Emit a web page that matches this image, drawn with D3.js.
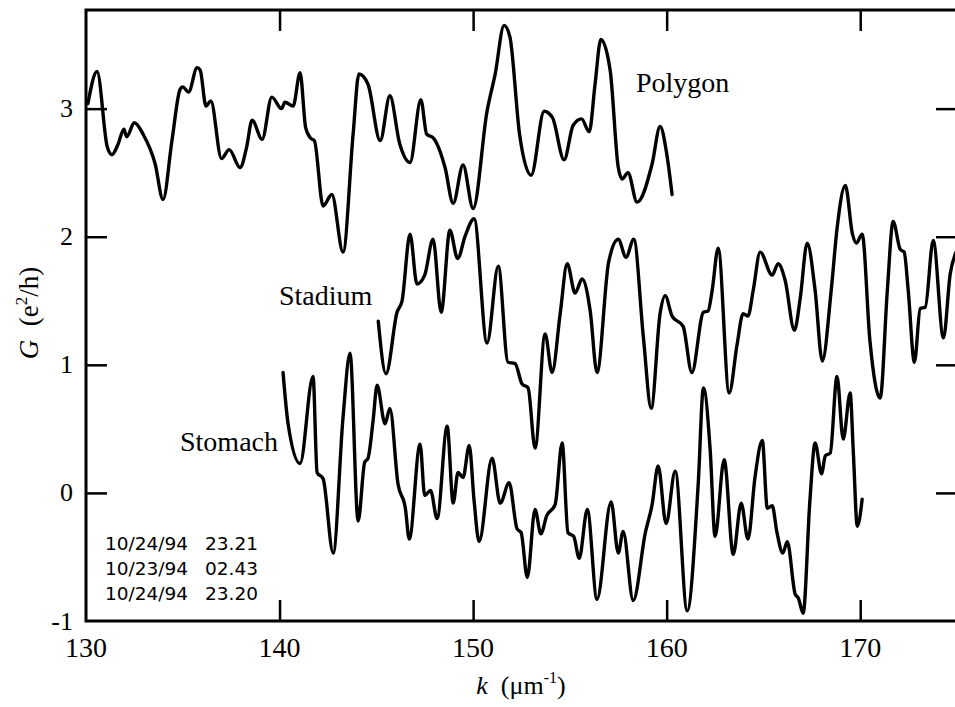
<!DOCTYPE html>
<html>
<head>
<meta charset="utf-8">
<script src="https://cdn.jsdelivr.net/npm/d3@7"></script>
<style>
  body { margin: 0; background: #fff; }
  svg { display: block; }
</style>
</head>
<body>
<div id="chart"></div>
<script>
// tick values
var xTicks = [130, 140, 150, 160, 170];
var yTicks = [-1, 0, 1, 2, 3];

// [k, G]
var polygonData = [
  [130.1, 3.04], [130.57, 3.29], [131.1, 2.70], [131.34, 2.64], [131.65, 2.72], [131.96, 2.84],
  [132.1, 2.78], [132.5, 2.89], [132.95, 2.80], [133.57, 2.57], [133.98, 2.29], [134.44, 2.75],
  [134.86, 3.15], [135.0, 3.17], [135.3, 3.13], [135.74, 3.32], [135.9, 3.30], [136.2, 3.02],
  [136.45, 3.06], [137.0, 2.61], [137.4, 2.68], [137.96, 2.54], [138.3, 2.70], [138.58, 2.91],
  [139.1, 2.76], [139.6, 3.09], [140.1, 3.00], [140.28, 3.05], [140.7, 3.02], [141.06, 3.28],
  [141.35, 2.85], [141.6, 2.77], [141.8, 2.75], [142.25, 2.24], [142.7, 2.33], [143.28, 1.88],
  [143.8, 2.80], [144.1, 3.27], [144.57, 3.19], [145.2, 2.75], [145.7, 3.10], [146.2, 2.73],
  [146.74, 2.58], [147.3, 3.07], [147.6, 2.80], [147.95, 2.77], [148.55, 2.54], [148.97, 2.26],
  [149.48, 2.56], [150.0, 2.22], [150.72, 2.98], [151.14, 3.27], [151.6, 3.65], [151.9, 3.56],
  [152.4, 2.80], [153.0, 2.48], [153.67, 2.98], [154.1, 2.93], [154.7, 2.60], [155.17, 2.87],
  [155.6, 2.92], [156.0, 2.82], [156.3, 3.19], [156.6, 3.54], [157.08, 3.30], [157.5, 2.54],
  [157.7, 2.45], [158.0, 2.50], [158.47, 2.27], [159.25, 2.57], [159.66, 2.86], [160.0, 2.65],
  [160.28, 2.33]
];

var stadiumData = [
  [145.1, 1.34], [145.5, 0.93], [146.07, 1.41], [146.33, 1.50], [146.74, 2.02], [147.1, 1.63],
  [147.5, 1.70], [147.93, 1.98], [148.35, 1.41], [148.8, 2.05], [149.2, 1.83], [149.6, 2.01],
  [150.05, 2.14], [150.72, 1.17], [151.3, 1.77], [151.8, 1.02], [152.17, 1.01], [152.53, 0.85],
  [152.84, 0.82], [153.2, 0.35], [153.72, 1.24], [154.08, 0.94], [154.5, 1.40], [154.86, 1.79],
  [155.27, 1.56], [155.63, 1.67], [156.05, 1.42], [156.4, 0.94], [157.0, 1.80], [157.5, 1.98],
  [157.9, 1.84], [158.3, 1.98], [158.8, 1.21], [159.2, 0.66], [159.66, 1.40], [159.92, 1.54],
  [160.28, 1.38], [160.85, 1.30], [161.3, 0.94], [161.9, 1.41], [162.14, 1.42], [162.35, 1.58],
  [162.66, 1.91], [163.23, 0.78], [163.64, 1.16], [163.95, 1.40], [164.2, 1.38], [164.47, 1.58],
  [164.83, 1.88], [165.45, 1.70], [165.76, 1.79], [166.12, 1.66], [166.6, 1.27], [166.9, 1.52],
  [167.26, 1.95], [167.67, 1.58], [168.04, 1.03], [168.5, 1.58], [168.8, 2.06], [169.23, 2.40],
  [169.6, 2.02], [169.8, 1.95], [170.1, 2.02], [170.5, 1.19], [171.03, 0.74], [171.4, 1.58],
  [171.7, 2.12], [172.07, 1.90], [172.27, 1.88], [172.48, 1.58], [172.8, 1.02], [173.1, 1.44],
  [173.36, 1.45], [173.77, 1.97], [174.3, 1.21], [174.65, 1.71], [174.95, 1.88]
];

var stomachData = [
  [140.18, 0.94], [140.44, 0.54], [141.06, 0.23], [141.73, 0.91], [141.94, 0.16], [142.25, 0.11],
  [142.77, -0.47], [143.28, 0.59], [143.64, 1.09], [144.06, -0.22], [144.4, 0.24], [144.57, 0.27],
  [144.83, 0.56], [145.04, 0.84], [145.45, 0.54], [145.7, 0.66], [146.12, 0.07], [146.5, -0.12],
  [146.7, -0.36], [147.26, 0.38], [147.5, -0.02], [147.8, 0.02], [148.14, -0.20], [148.66, 0.52],
  [148.97, -0.08], [149.22, 0.16], [149.48, 0.12], [149.8, 0.37], [150.05, -0.06], [150.31, -0.38],
  [150.98, 0.27], [151.4, -0.08], [151.86, 0.08], [152.27, -0.28], [152.48, -0.31], [152.8, -0.66],
  [153.2, -0.13], [153.5, -0.32], [153.8, -0.18], [154.24, -0.09], [154.6, 0.39], [154.9, -0.31],
  [155.2, -0.34], [155.48, -0.51], [155.9, -0.13], [156.4, -0.83], [157.13, -0.07], [157.5, -0.47],
  [157.75, -0.30], [158.27, -0.84], [158.9, -0.31], [159.25, -0.09], [159.56, 0.21], [159.97, -0.24],
  [160.44, 0.17], [161.06, -0.92], [161.63, 0.07], [161.9, 0.82], [162.25, 0.33], [162.5, -0.34],
  [162.97, 0.26], [163.44, -0.48], [163.85, -0.08], [164.2, -0.36], [164.57, 0.13], [164.94, 0.41],
  [165.2, -0.12], [165.45, -0.10], [165.7, -0.31], [166.0, -0.47], [166.23, -0.38], [166.64, -0.79],
  [166.8, -0.82], [167.05, -0.94], [167.4, -0.06], [167.67, 0.39], [168.0, 0.15], [168.2, 0.29],
  [168.45, 0.31], [168.8, 0.91], [169.12, 0.42], [169.48, 0.78], [169.64, 0.33], [169.85, -0.26],
  [170.1, -0.05]
];

// labels
var seriesLabels = ["Polygon", "Stadium", "Stomach"];
var stampDates = ["10/24/94", "10/23/94", "10/24/94"];
var stampTimes = ["23.21", "02.43", "23.20"];

var width = 955, height = 707;
var frame = { left: 86, top: 10, right: 957, bottom: 621 };
var serif = "'Liberation Serif', 'Times New Roman', serif";
var sans = "'DejaVu Sans', sans-serif";

var svg = d3.select("#chart").append("svg")
  .attr("width", width)
  .attr("height", height);

var x = d3.scaleLinear().domain([130, 175]).range([frame.left, frame.right]);
var y = d3.scaleLinear().domain([-1, 3.77]).range([frame.bottom, frame.top]);

// inward ticks on all four sides
var tickLen = 21;
function addAxis(axis, tx, ty) {
  var g = svg.append("g")
    .attr("transform", "translate(" + tx + "," + ty + ")")
    .call(axis);
  g.select(".domain").remove();
  g.selectAll("line").attr("stroke", "#000").attr("stroke-width", 2.5);
  g.selectAll("text").remove();
  return g;
}
var innerX = xTicks.slice(1);
var innerY = yTicks.slice(1);
addAxis(d3.axisBottom(x).tickValues(innerX).tickSize(-tickLen), 0, frame.bottom);
addAxis(d3.axisTop(x).tickValues(innerX).tickSize(-tickLen), 0, frame.top);
addAxis(d3.axisLeft(y).tickValues(innerY).tickSize(-tickLen), frame.left, 0);
addAxis(d3.axisRight(y).tickValues(innerY).tickSize(-tickLen), frame.right, 0);

// frame
svg.append("rect")
  .attr("x", frame.left)
  .attr("y", frame.top)
  .attr("width", frame.right - frame.left)
  .attr("height", frame.bottom - frame.top)
  .attr("fill", "none")
  .attr("stroke", "#000")
  .attr("stroke-width", 3);

// tick labels
svg.selectAll(".xlab").data(xTicks).enter().append("text")
  .attr("class", "xlab")
  .attr("x", function(d){ return x(d); })
  .attr("y", 657)
  .attr("text-anchor", "middle")
  .attr("font-family", serif)
  .attr("font-size", 28)
  .text(function(d){ return d; });

svg.selectAll(".ylab").data(yTicks).enter().append("text")
  .attr("class", "ylab")
  .attr("x", 73)
  .attr("y", function(d){ return y(d); })
  .attr("dy", "0.33em")
  .attr("text-anchor", "end")
  .attr("font-family", serif)
  .attr("font-size", 26)
  .text(function(d){ return d; });

// axis titles
var xTitle = svg.append("text")
  .attr("x", 521)
  .attr("y", 694)
  .attr("text-anchor", "middle")
  .attr("font-family", serif)
  .attr("font-size", 26);
xTitle.append("tspan").attr("font-style", "italic").text("k");
xTitle.append("tspan").text("\u00a0\u00a0(\u03bcm");
xTitle.append("tspan").attr("font-size", 16).attr("dy", -11).text("-1");
xTitle.append("tspan").attr("dy", 11).text(")");

var yTitle = svg.append("text")
  .attr("transform", "translate(38,313) rotate(-90)")
  .attr("text-anchor", "middle")
  .attr("font-family", serif)
  .attr("font-size", 27);
yTitle.append("tspan").attr("font-style", "italic").text("G");
yTitle.append("tspan").text("\u00a0\u00a0(e");
yTitle.append("tspan").attr("font-size", 17).attr("dy", -11).text("2");
yTitle.append("tspan").attr("dy", 11).text("/h)");

// traces
var line = d3.line()
  .x(function(d){ return x(d[0]); })
  .y(function(d){ return y(d[1]); })
  .curve(d3.curveMonotoneX);

[polygonData, stadiumData, stomachData].forEach(function(data){
  svg.append("path")
    .datum(data)
    .attr("d", line)
    .attr("fill", "none")
    .attr("stroke", "#000")
    .attr("stroke-width", 3.4)
    .attr("stroke-linejoin", "round")
    .attr("stroke-linecap", "round");
});

// trace names
var labelPos = [[636, 92], [279, 305], [180, 451]];
seriesLabels.forEach(function(name, i){
  svg.append("text")
    .attr("x", labelPos[i][0])
    .attr("y", labelPos[i][1])
    .attr("font-family", serif)
    .attr("font-size", 28)
    .text(name);
});

// date stamps
stampDates.forEach(function(d, i){
  var yy = 550 + i * 25;
  svg.append("text")
    .attr("x", 105).attr("y", yy)
    .attr("font-family", sans)
    .attr("font-size", 18.5)
    .text(d);
  svg.append("text")
    .attr("x", 205).attr("y", yy)
    .attr("font-family", sans)
    .attr("font-size", 18.5)
    .text(stampTimes[i]);
});
</script>
</body>
</html>
